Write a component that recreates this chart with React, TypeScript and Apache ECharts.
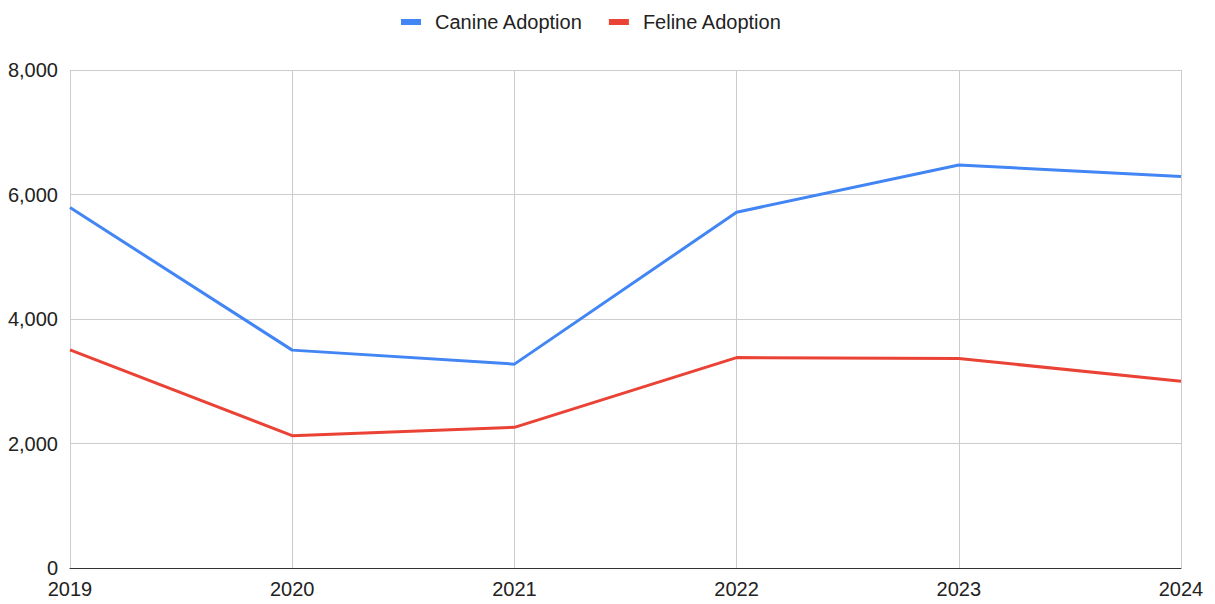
import React, { useEffect, useRef } from "react";
import * as echarts from "echarts";

const years = ["2019", "2020", "2021", "2022", "2023", "2024"];
const canine = [5790, 3500, 3275, 5715, 6475, 6290];
const feline = [3505, 2125, 2260, 3380, 3365, 3000];
const yTicks = [0, 2000, 4000, 6000, 8000];

const FONT = "'Liberation Sans', Arial, sans-serif";

export default function App() {
  const ref = useRef<HTMLDivElement>(null);
  useEffect(() => {
    const chart = echarts.init(ref.current!, null, { renderer: "svg" });
    chart.setOption({
      animation: false,
      textStyle: { fontFamily: FONT },
      legend: {
        top: 7,
        left: 396,
        icon: "rect",
        itemWidth: 20,
        itemHeight: 6,
        itemGap: 26,
        textStyle: { fontSize: 20, color: "#222", fontFamily: FONT, padding: [0, 0, 0, 9] },
        data: ["Canine Adoption", "Feline Adoption"],
      },
      grid: { left: 70, right: 34, top: 70, bottom: 36, containLabel: false },
      xAxis: {
        type: "category",
        data: years,
        boundaryGap: false,
        axisLine: { lineStyle: { color: "#333", width: 1 } },
        axisTick: { show: false },
        axisLabel: { fontSize: 20, color: "#222", margin: 11, fontFamily: FONT },
        splitLine: { show: true, lineStyle: { color: "#ccc", width: 1 } },
      },
      yAxis: {
        type: "value",
        min: yTicks[0],
        max: yTicks[yTicks.length - 1],
        interval: 2000,
        axisLine: { show: false },
        axisTick: { show: false },
        axisLabel: {
          fontSize: 20,
          color: "#222",
          margin: 12,
          fontFamily: FONT,
          formatter: (v: number) => v.toLocaleString("en-US"),
        },
        splitLine: { show: true, lineStyle: { color: "#ccc", width: 1 } },
      },
      series: [
        {
          name: "Canine Adoption",
          type: "line",
          data: canine,
          showSymbol: false,
          symbol: "none",
          lineStyle: { color: "#4285F4", width: 3 },
          itemStyle: { color: "#4285F4" },
        },
        {
          name: "Feline Adoption",
          type: "line",
          data: feline,
          showSymbol: false,
          symbol: "none",
          lineStyle: { color: "#EA4335", width: 3 },
          itemStyle: { color: "#EA4335" },
        },
      ],
    });
    return () => chart.dispose();
  }, []);
  return <div ref={ref} style={{ width: 1215, height: 604, position: "absolute", left: 0, top: 0 }} />;
}
